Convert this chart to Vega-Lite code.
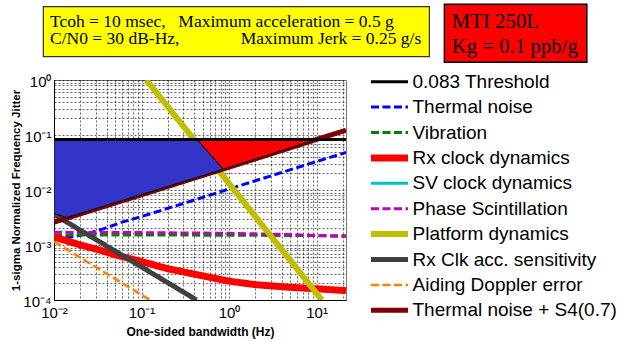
{
  "$schema": "https://vega.github.io/schema/vega-lite/v6.json",
  "width": 292,
  "height": 220,
  "autosize": "none",
  "padding": {"left": 54, "top": 80, "right": 295, "bottom": 41},
  "background": "white",
  "config": {
    "view": {"stroke": "#777", "strokeWidth": 1},
    "font": "Liberation Sans",
    "axis": {
      "labelFont": "Liberation Sans",
      "labelFontSize": 15,
      "labelColor": "#000",
      "titleFont": "Liberation Sans",
      "titleFontSize": 12,
      "titleFontWeight": "bold",
      "titleColor": "#000",
      "ticks": false,
      "domainColor": "#000",
      "domainWidth": 1,
      "grid": true,
      "gridColor": "#000",
      "gridDash": [2, 2],
      "gridOpacity": 0.6,
      "gridWidth": 1,
      "labelFlush": false,
      "labelOverlap": false,
      "labelBound": false
    },
    "legend": {
      "orient": "none",
      "legendX": 313.5,
      "legendY": -10.8,
      "title": null,
      "symbolType": "stroke",
      "symbolSize": 1369,
      "labelFont": "Liberation Sans",
      "labelFontSize": 19,
      "labelColor": "#000",
      "labelLimit": 400,
      "labelOffset": 1,
      "clipHeight": 25,
      "rowPadding": 0.4,
      "padding": 0
    }
  },
  "encoding": {
    "x": {
      "field": "f",
      "type": "quantitative",
      "scale": {"type": "log", "domain": [0.01, 21.7], "nice": false, "clamp": false},
      "axis": {
        "title": "One-sided bandwidth (Hz)",
        "values": [0.01, 0.02, 0.03, 0.04, 0.05, 0.06, 0.07, 0.08, 0.09, 0.1, 0.2, 0.3, 0.4, 0.5, 0.6, 0.7, 0.8, 0.9, 1, 2, 3, 4, 5, 6, 7, 8, 9, 10, 20],
        "labelExpr": "datum.value == 0.01 ? '10⁻²' : datum.value == 0.1 ? '10⁻¹' : datum.value == 1 ? '10⁰' : datum.value == 10 ? '10¹' : ''",
        "labelPadding": 5,
        "titlePadding": 6
      }
    },
    "y": {
      "field": "v",
      "type": "quantitative",
      "scale": {"type": "log", "domain": [0.0001, 1], "nice": false, "clamp": false},
      "axis": {
        "title": "1-sigma Normalized Frequency Jitter",
        "titleFontSize": 11.5,
        "values": [0.0001, 0.0002, 0.0003, 0.0004, 0.0005, 0.0006, 0.0007, 0.0008, 0.0009, 0.001, 0.002, 0.003, 0.004, 0.005, 0.006, 0.007, 0.008, 0.009, 0.01, 0.02, 0.03, 0.04, 0.05, 0.06, 0.07, 0.08, 0.09, 0.1, 0.2, 0.3, 0.4, 0.5, 0.6, 0.7, 0.8, 0.9, 1],
        "labelExpr": "datum.value == 1 ? '10⁰' : datum.value == 0.1 ? '10⁻¹' : datum.value == 0.01 ? '10⁻²' : datum.value == 0.001 ? '10⁻³' : datum.value == 0.0001 ? '10⁻⁴' : ''",
        "labelPadding": 3,
        "labelOffset": 1,
        "titlePadding": 1
      }
    }
  },
  "layer": [
    {
      "data": {
        "values": [
          {"s": "Thermal noise", "f": 0.01, "v": 0.00125},
          {"s": "Thermal noise", "f": 0.02, "v": 0.0015},
          {"s": "Thermal noise", "f": 0.0334, "v": 0.00187},
          {"s": "Thermal noise", "f": 0.06, "v": 0.0026},
          {"s": "Thermal noise", "f": 0.124, "v": 0.00366},
          {"s": "Thermal noise", "f": 1, "v": 0.0104},
          {"s": "Thermal noise", "f": 10, "v": 0.033},
          {"s": "Thermal noise", "f": 21.7, "v": 0.048},
          {"s": "Vibration", "f": 0.01, "v": 0.00152},
          {"s": "Vibration", "f": 1, "v": 0.00151},
          {"s": "Vibration", "f": 21.7, "v": 0.00147},
          {"s": "Rx clock dynamics", "f": 0.01, "v": 0.0014},
          {"s": "Rx clock dynamics", "f": 0.02, "v": 0.001},
          {"s": "Rx clock dynamics", "f": 0.0334, "v": 0.00081},
          {"s": "Rx clock dynamics", "f": 0.05, "v": 0.00066},
          {"s": "Rx clock dynamics", "f": 0.1, "v": 0.0005},
          {"s": "Rx clock dynamics", "f": 0.2, "v": 0.00037},
          {"s": "Rx clock dynamics", "f": 0.5, "v": 0.000275},
          {"s": "Rx clock dynamics", "f": 1, "v": 0.00022},
          {"s": "Rx clock dynamics", "f": 2, "v": 0.00019},
          {"s": "Rx clock dynamics", "f": 5, "v": 0.00017},
          {"s": "Rx clock dynamics", "f": 10, "v": 0.00016},
          {"s": "Rx clock dynamics", "f": 21.7, "v": 0.000148},
          {"s": "Phase Scintillation", "f": 0.01, "v": 0.0017},
          {"s": "Phase Scintillation", "f": 0.1, "v": 0.00168},
          {"s": "Phase Scintillation", "f": 1, "v": 0.00163},
          {"s": "Phase Scintillation", "f": 5, "v": 0.00155},
          {"s": "Phase Scintillation", "f": 21.7, "v": 0.00143},
          {"s": "Platform dynamics", "f": 0.114, "v": 1},
          {"s": "Platform dynamics", "f": 11.5, "v": 0.0001},
          {"s": "Rx Clk acc. sensitivity", "f": 0.01, "v": 0.0036},
          {"s": "Rx Clk acc. sensitivity", "f": 0.426, "v": 0.0001},
          {"s": "Aiding Doppler error", "f": 0.01, "v": 0.00115},
          {"s": "Aiding Doppler error", "f": 0.125, "v": 0.0001},
          {"s": "Thermal noise + S4(0.7)", "f": 0.01, "v": 0.0026},
          {"s": "Thermal noise + S4(0.7)", "f": 0.1, "v": 0.0082},
          {"s": "Thermal noise + S4(0.7)", "f": 1, "v": 0.026},
          {"s": "Thermal noise + S4(0.7)", "f": 10, "v": 0.083},
          {"s": "Thermal noise + S4(0.7)", "f": 21.7, "v": 0.122}
        ]
      },
      "mark": {"type": "line", "clip": true},
      "encoding": {
        "color": {
          "field": "s", "type": "nominal",
          "scale": {
            "domain": ["0.083 Threshold", "Thermal noise", "Vibration", "Rx clock dynamics", "SV clock dynamics", "Phase Scintillation", "Platform dynamics", "Rx Clk acc. sensitivity", "Aiding Doppler error", "Thermal noise + S4(0.7)"],
            "range": ["#000000", "#0000FF", "#008000", "#FF0000", "#00BFBF", "#BF00BF", "#BFBF00", "#404040", "#FF8000", "#7F0000"]
          }
        },
        "strokeDash": {
          "field": "s", "type": "nominal",
          "scale": {
            "domain": ["0.083 Threshold", "Thermal noise", "Vibration", "Rx clock dynamics", "SV clock dynamics", "Phase Scintillation", "Platform dynamics", "Rx Clk acc. sensitivity", "Aiding Doppler error", "Thermal noise + S4(0.7)"],
            "range": [[1, 0], [8, 3.5], [8, 3.5], [1, 0], [1, 0], [8, 3.5], [1, 0], [1, 0], [8, 3.5], [1, 0]]
          }
        },
        "strokeWidth": {
          "field": "s", "type": "nominal",
          "scale": {
            "type": "ordinal",
            "domain": ["0.083 Threshold", "Thermal noise", "Vibration", "Rx clock dynamics", "SV clock dynamics", "Phase Scintillation", "Platform dynamics", "Rx Clk acc. sensitivity", "Aiding Doppler error", "Thermal noise + S4(0.7)"],
            "range": [3, 3, 3, 7, 3, 3, 6, 5, 2.5, 5]
          }
        }
      }
    },
    {
      "data": {
        "values": [
          {"f": 0.01, "v": 0.00377, "v2": 0.083},
          {"f": 0.01386, "v": 0.00314, "v2": 0.083},
          {"f": 0.432, "v": 0.01694, "v2": 0.083},
          {"f": 0.859, "v": 0.0238, "v2": 0.0238}
        ]
      },
      "mark": {"type": "area", "color": "#3434C8", "fillOpacity": 1, "stroke": "#000", "strokeWidth": 1, "clip": true},
      "encoding": {"y2": {"field": "v2"}}
    },
    {
      "data": {
        "values": [
          {"f": 0.432, "v": 0.083, "v2": 0.083},
          {"f": 0.859, "v": 0.0238, "v2": 0.083},
          {"f": 9.9, "v": 0.083, "v2": 0.083}
        ]
      },
      "mark": {"type": "area", "color": "#FF0000", "fillOpacity": 1, "stroke": "#000", "strokeWidth": 1, "clip": true},
      "encoding": {"y2": {"field": "v2"}}
    },
    {
      "data": {
        "values": [
          {"s": "0.083 Threshold", "f": 0.01, "v": 0.083},
          {"s": "0.083 Threshold", "f": 21.7, "v": 0.083}
        ]
      },
      "mark": {"type": "line", "clip": true},
      "encoding": {
        "color": {
          "field": "s", "type": "nominal",
          "scale": {
            "domain": ["0.083 Threshold", "Thermal noise", "Vibration", "Rx clock dynamics", "SV clock dynamics", "Phase Scintillation", "Platform dynamics", "Rx Clk acc. sensitivity", "Aiding Doppler error", "Thermal noise + S4(0.7)"],
            "range": ["#000000", "#0000FF", "#008000", "#FF0000", "#00BFBF", "#BF00BF", "#BFBF00", "#404040", "#FF8000", "#7F0000"]
          }
        },
        "strokeDash": {
          "field": "s", "type": "nominal",
          "scale": {
            "domain": ["0.083 Threshold", "Thermal noise", "Vibration", "Rx clock dynamics", "SV clock dynamics", "Phase Scintillation", "Platform dynamics", "Rx Clk acc. sensitivity", "Aiding Doppler error", "Thermal noise + S4(0.7)"],
            "range": [[1, 0], [8, 3.5], [8, 3.5], [1, 0], [1, 0], [8, 3.5], [1, 0], [1, 0], [8, 3.5], [1, 0]]
          }
        },
        "strokeWidth": {
          "field": "s", "type": "nominal",
          "scale": {
            "type": "ordinal",
            "domain": ["0.083 Threshold", "Thermal noise", "Vibration", "Rx clock dynamics", "SV clock dynamics", "Phase Scintillation", "Platform dynamics", "Rx Clk acc. sensitivity", "Aiding Doppler error", "Thermal noise + S4(0.7)"],
            "range": [3, 3, 3, 7, 3, 3, 6, 5, 2.5, 5]
          }
        }
      }
    },
    {
      "data": {"values": [{"f": 0.007544, "f2": 194.5, "v": 21.51, "v2": 2.652}]},
      "mark": {"type": "rect", "fill": "#FFFF00", "stroke": "#333", "strokeWidth": 1.2},
      "encoding": {"x2": {"field": "f2"}, "y2": {"field": "v2"}}
    },
    {
      "data": {"values": [{"f": 288.8, "f2": 12250, "v": 23.79, "v2": 2.098}]},
      "mark": {"type": "rect", "fill": "#FF0000", "stroke": "#000", "strokeWidth": 1.5},
      "encoding": {"x2": {"field": "f2"}, "y2": {"field": "v2"}}
    },
    {
      "data": {
        "values": [
          {"f": 0.009001, "v": 9.05, "t": "Tcoh = 10 msec,"},
          {"f": 0.2634, "v": 9.05, "t": "Maximum acceleration = 0.5 g"},
          {"f": 0.009001, "v": 4.513, "t": "C/N0 = 30 dB-Hz,"},
          {"f": 1.3604, "v": 4.513, "t": "Maximum Jerk = 0.25 g/s"}
        ]
      },
      "mark": {"type": "text", "font": "Liberation Serif", "fontSize": 17.5, "align": "left", "baseline": "alphabetic", "color": "#000"},
      "encoding": {"text": {"field": "t"}}
    },
    {
      "data": {
        "values": [
          {"f": 350.9, "v": 8.71, "t": "MTI 250L"},
          {"f": 350.9, "v": 3.06, "t": "Kg = 0.1 ppb/g"}
        ]
      },
      "mark": {"type": "text", "font": "Liberation Serif", "fontSize": 20.8, "align": "left", "baseline": "alphabetic", "color": "#000"},
      "encoding": {"text": {"field": "t"}}
    }
  ]
}
